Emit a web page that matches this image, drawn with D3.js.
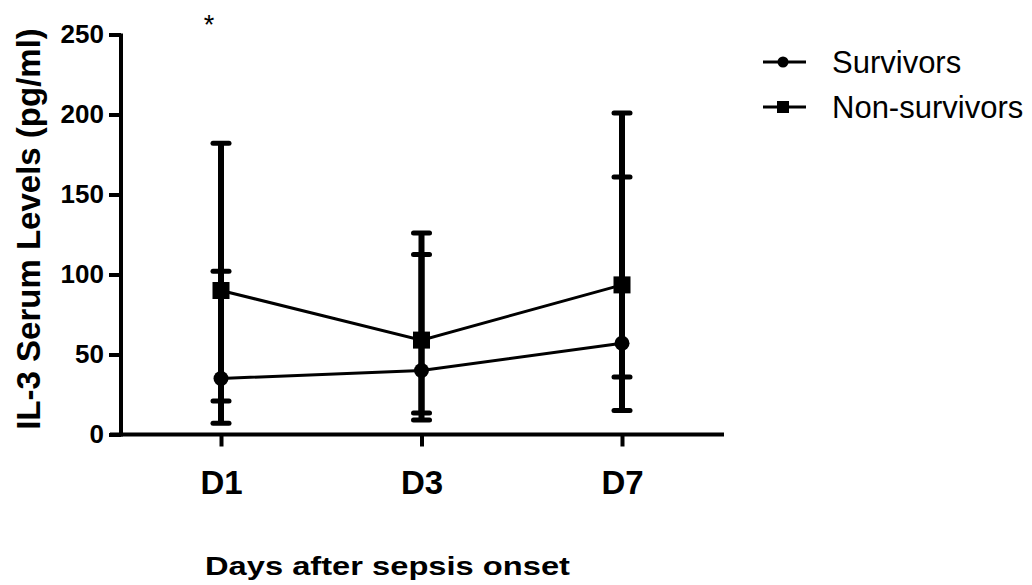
<!DOCTYPE html>
<html>
<head>
<meta charset="utf-8">
<script src="https://cdn.jsdelivr.net/npm/d3@7"></script>
<style>
  body { margin: 0; background: #fff; }
  svg { display: block; font-family: "Liberation Sans", Arial, sans-serif; }
</style>
</head>
<body>
<svg id="chart" width="1032" height="585"></svg>
<script>
// values (mean / lower / upper whisker)
var days = ["D1", "D3", "D7"];
var survivorsMean = [35, 40, 57];
var survivorsLow = [21, 13.5, 36];
var survivorsHigh = [102, 112.5, 161];
var nonSurvivorsMean = [90, 59, 93.5];
var nonSurvivorsLow = [7, 9, 15];
var nonSurvivorsHigh = [182, 126, 201];
var yTicks = [0, 50, 100, 150, 200, 250];
var seriesNames = ["Survivors", "Non-survivors"];

var svg = d3.select("#chart");

var x = d3.scalePoint().domain(days).range([221, 622]);
var y = d3.scaleLinear().domain([0, 250]).range([434.5, 34.5]);

function rows(mean, lo, hi) {
    return days.map(function(d, i) {
        return {day: d, mean: mean[i], lo: lo[i], hi: hi[i]};
    });
}
var series = [
    {name: seriesNames[0], shape: "circle", rows: rows(survivorsMean, survivorsLow, survivorsHigh)},
    {name: seriesNames[1], shape: "square", rows: rows(nonSurvivorsMean, nonSurvivorsLow, nonSurvivorsHigh)}
];

// y axis
var yAxis = d3.axisLeft(y).tickValues(yTicks).tickSize(12).tickSizeOuter(0).tickPadding(5);
var gy = svg.append("g").attr("transform", "translate(121,0)").call(yAxis);
gy.select(".domain").attr("stroke", "#000").attr("stroke-width", 4)
    .attr("d", "M0," + (y(0) + 2) + "V" + (y(250) - 1));
gy.selectAll(".tick line").attr("stroke", "#000").attr("stroke-width", 4);
gy.selectAll(".tick text").attr("fill", "#000")
    .style("font-size", "26px").style("font-weight", "bold");

// x axis
var xAxis = d3.axisBottom(x).tickSize(12).tickSizeOuter(0).tickPadding(24);
var gx = svg.append("g").attr("transform", "translate(0," + y(0) + ")").call(xAxis);
gx.select(".domain").attr("stroke", "#000").attr("stroke-width", 4)
    .attr("d", "M110,0H724");
gx.selectAll(".tick line").attr("stroke", "#000").attr("stroke-width", 4);
gx.selectAll(".tick text").attr("fill", "#000")
    .style("font-size", "33px").style("font-weight", "bold");

// axis titles
svg.append("text")
    .attr("transform", "translate(40,229) rotate(-90)")
    .attr("text-anchor", "middle")
    .style("font-size", "33px").style("font-weight", "bold")
    .text("IL-3 Serum Levels (pg/ml)");

svg.append("text")
    .attr("x", 387.5).attr("y", 575)
    .attr("text-anchor", "middle")
    .attr("textLength", 365).attr("lengthAdjust", "spacingAndGlyphs")
    .style("font-size", "25px").style("font-weight", "bold")
    .text("Days after sepsis onset");

// significance mark
svg.append("text")
    .attr("x", 209).attr("y", 34)
    .attr("text-anchor", "middle")
    .style("font-size", "27px")
    .text("*");

// error bars
var bars = svg.append("g").attr("class", "errorbars");
series.forEach(function(s) {
    var g = bars.selectAll(null).data(s.rows).enter().append("g");
    g.append("line")
        .attr("x1", function(d) { return x(d.day); })
        .attr("x2", function(d) { return x(d.day); })
        .attr("y1", function(d) { return y(d.lo); })
        .attr("y2", function(d) { return y(d.hi); })
        .attr("stroke", "#000").attr("stroke-width", 6);
    ["lo", "hi"].forEach(function(k) {
        g.append("line")
            .attr("x1", function(d) { return x(d.day) - 8; })
            .attr("x2", function(d) { return x(d.day) + 8; })
            .attr("y1", function(d) { return y(d[k]); })
            .attr("y2", function(d) { return y(d[k]); })
            .attr("stroke", "#000").attr("stroke-width", 5)
            .attr("stroke-linecap", "round");
    });
});

// lines
var line = d3.line()
    .x(function(d) { return x(d.day); })
    .y(function(d) { return y(d.mean); });
series.forEach(function(s) {
    svg.append("path")
        .datum(s.rows)
        .attr("fill", "none")
        .attr("stroke", "#000")
        .attr("stroke-width", 3)
        .attr("d", line);
});

// markers
function marker(sel, shape, size) {
    if (shape === "circle") {
        sel.append("circle").attr("r", size / 2).attr("fill", "#000");
    } else {
        sel.append("rect")
            .attr("x", -size / 2).attr("y", -size / 2)
            .attr("width", size).attr("height", size)
            .attr("fill", "#000");
    }
}
series.forEach(function(s) {
    var m = svg.selectAll(null).data(s.rows).enter().append("g")
        .attr("transform", function(d) { return "translate(" + x(d.day) + "," + y(d.mean) + ")"; });
    marker(m, s.shape, s.shape === "circle" ? 15 : 17);
});

// legend
var legend = svg.append("g").attr("transform", "translate(763,62)");
var items = legend.selectAll("g").data(series).enter().append("g")
    .attr("transform", function(d, i) { return "translate(0," + (i * 45) + ")"; });
items.append("line")
    .attr("x1", 0).attr("x2", 43)
    .attr("stroke", "#000").attr("stroke-width", 3);
items.each(function(d) {
    var m = d3.select(this).append("g").attr("transform", "translate(20,0)");
    marker(m, d.shape, d.shape === "circle" ? 11 : 12);
});
items.append("text")
    .attr("x", 69).attr("y", 11)
    .style("font-size", "31px")
    .text(function(d) { return d.name; });
</script>
</body>
</html>
